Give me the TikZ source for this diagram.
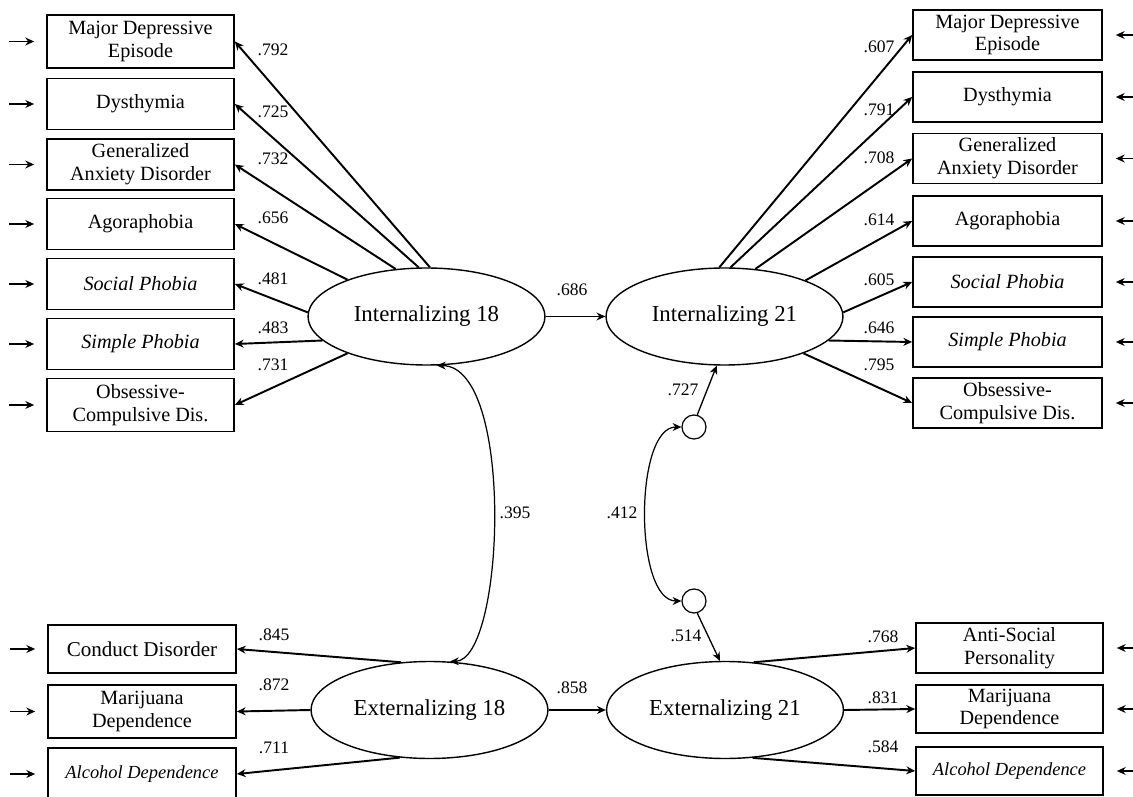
\documentclass[tikz,border=0pt]{standalone}
\usepackage{fontspec}
\setmainfont{Liberation Serif}
\usetikzlibrary{arrows.meta,shapes.geometric}
\begin{document}
\begin{tikzpicture}[x=0.02cm,y=-0.02cm,
  obs/.style={draw,line width=1pt,minimum width=3.74cm,minimum height=1.02cm,align=center,inner sep=1pt,font=\fontsize{11.5}{13}\selectfont},
  lat/.style={draw,ellipse,line width=0.8pt,minimum width=4.74cm,minimum height=1.94cm,inner sep=0pt,font=\fontsize{13}{15}\selectfont},
  res/.style={draw,circle,line width=0.7pt,minimum size=0.48cm,inner sep=0pt},
  tip/.tip={Stealth[length=5pt,width=4.5pt]},
  load/.style={line width=1.1pt,-tip},
  err/.style={line width=1.1pt,-tip},
  pth/.style={line width=0.75pt,-tip},
  cov/.style={line width=0.7pt,tip-tip},
  num/.style={font=\fontsize{10}{12}\selectfont,inner sep=0pt}]
\path[use as bounding box] (0,0) rectangle (1133,797);
\clip (0,0) rectangle (1133,797);

% latent variables
\node[lat] (I18) at (426.5,316.5) {Internalizing 18};
\node[lat] (I21) at (724.5,316.5) {Internalizing 21};
\node[lat] (E18) at (429.5,710) {Externalizing 18};
\node[lat] (E21) at (725,710) {Externalizing 21};
\node[res] (U) at (694,427) {};
\node[res] (D) at (694,601) {};

% left indicators (age 18)
\node[obs,minimum height=1.06cm] (L1) at (140.5,41.5) {Major Depressive\\Episode};
\node[obs] (L2) at (140.5,104) {Dysthymia};
\node[obs] (L3) at (140.5,164.5) {Generalized\\Anxiety Disorder};
\node[obs] (L4) at (140.5,224) {Agoraphobia};
\node[obs] (L5) at (140.5,284) {\textit{Social Phobia}};
\node[obs] (L6) at (140.5,344) {\textit{Simple Phobia}};
\node[obs,minimum height=1.06cm] (L7) at (140.5,405) {Obsessive-\\Compulsive Dis.};

% right indicators (age 21)
\node[obs,minimum width=3.78cm,minimum height=1.0cm] (R1) at (1007.5,35) {Major Depressive\\Episode};
\node[obs,minimum width=3.78cm,minimum height=1.0cm] (R2) at (1007.5,97) {Dysthymia};
\node[obs,minimum width=3.78cm,minimum height=1.0cm] (R3) at (1007.5,158.5) {Generalized\\Anxiety Disorder};
\node[obs,minimum width=3.78cm,minimum height=1.0cm] (R4) at (1007.5,221) {Agoraphobia};
\node[obs,minimum width=3.78cm,minimum height=1.0cm] (R5) at (1007.5,282) {\textit{Social Phobia}};
\node[obs,minimum width=3.78cm,minimum height=1.0cm] (R6) at (1007.5,342) {\textit{Simple Phobia}};
\node[obs,minimum width=3.78cm,minimum height=1.0cm] (R7) at (1007.5,403) {Obsessive-\\Compulsive Dis.};

% bottom-left indicators
\node[obs,minimum width=3.76cm,minimum height=0.96cm,font=\fontsize{12}{13}\selectfont] (B1) at (142,649) {Conduct Disorder};
\node[obs,minimum width=3.76cm,minimum height=1.06cm] (B2) at (142,711.5) {Marijuana\\Dependence};
\node[obs,minimum width=3.76cm,minimum height=1.04cm,font=\fontsize{10.5}{12}\selectfont\itshape] (B3) at (142,774) {Alcohol Dependence};

% bottom-right indicators
\node[obs,minimum width=3.74cm,minimum height=1.0cm] (C1) at (1009.5,648) {Anti-Social\\Personality};
\node[obs,minimum width=3.74cm,minimum height=0.96cm] (C2) at (1009.5,709) {Marijuana\\Dependence};
\node[obs,minimum width=3.74cm,minimum height=0.96cm,font=\fontsize{10.5}{12}\selectfont\itshape] (C3) at (1009.5,771) {Alcohol Dependence};

% loadings Internalizing 18
\draw[load] (I18.86) -- (L1.east);
\draw[load] (I18.99.7) -- (L2.east);
\draw[load] (I18.123.5) -- (L3.east);
\draw[load] (I18.155.9) -- (L4.east);
\draw[load] (I18.178) -- (L5.east);
\draw[load] (I18.193.2) -- (L6.east);
\draw[load] (I18.205.8) -- (L7.east);

% loadings Internalizing 21
\draw[load] (I21.96.3) -- (R1.west);
\draw[load] (I21.83.7) -- (R2.west);
\draw[load] (I21.57.8) -- (R3.west);
\draw[load] (I21.24.9) -- (R4.west);
\draw[load] (I21.2) -- (R5.west);
\draw[load] (I21.-13.4) -- (R6.west);
\draw[load] (I21.-25.6) -- (R7.west);

% loadings Externalizing 18
\draw[load] (E18.121.6) -- (B1.east);
\draw[load] (E18.west) -- (B2.east);
\draw[load] (E18.238.9) -- (B3.east);

% loadings Externalizing 21
\draw[load] (E21.59.9) -- (C1.west);
\draw[load] (E21.east) -- (C2.west);
\draw[load] (E21.-60) -- (C3.west);

% error arrows
\foreach \n in {L1,L2,L3,L4,L5,L6,L7,B1,B2,B3}
  \draw[err] ([xshift=-0.74cm]\n.west) -- ([xshift=-0.24cm]\n.west);
\foreach \n in {R1,R2,R3,R4,R5,R6,R7,C1,C2,C3}
  \draw[err] ([xshift=0.6cm]\n.east) -- ([xshift=0.26cm]\n.east);

% structural paths
\draw[pth] (I18.east) -- (I21.west);
\draw[pth,line width=1pt] (E18.east) -- (E21.west);
\draw[pth] (U.75) -- (I21.261.7);
\draw[pth] (D.-75) -- (E21.96.8);

% covariances
\draw[cov] (I18.282) .. controls (515,366) and (505,660) .. (E18.67.7);
\draw[cov] (U.west) .. controls (634,427) and (634,601) .. (D.west);

% coefficients
\node[num] (n1) at (273,50) {.792};
\node[num] (n2) at (273,112) {.725};
\node[num] (n3) at (273,159) {.732};
\node[num] (n4) at (273,218) {.656};
\node[num] (n5) at (273,279) {.481};
\node[num] (n6) at (273,328) {.483};
\node[num] (n7) at (273,365) {.731};
\node[num] (m1) at (879,47) {.607};
\node[num] (m2) at (879,110) {.791};
\node[num] (m3) at (879,158) {.708};
\node[num] (m4) at (879,220) {.614};
\node[num] (m5) at (879,280) {.605};
\node[num] (m6) at (879,328) {.646};
\node[num] (m7) at (879,365) {.795};
\node[num] (k1) at (572,290) {.686};
\node[num] (k2) at (683,390) {.727};
\node[num] (k3) at (515,513) {.395};
\node[num] (k4) at (622,513) {.412};
\node[num] (k5) at (686,636) {.514};
\node[num] (k6) at (572,688) {.858};
\node[num] (b1) at (274,635) {.845};
\node[num] (b2) at (274,685) {.872};
\node[num] (b3) at (274,748) {.711};
\node[num] (c1) at (883,637) {.768};
\node[num] (c2) at (883,698) {.831};
\node[num] (c3) at (883,747) {.584};
\end{tikzpicture}
\end{document}
